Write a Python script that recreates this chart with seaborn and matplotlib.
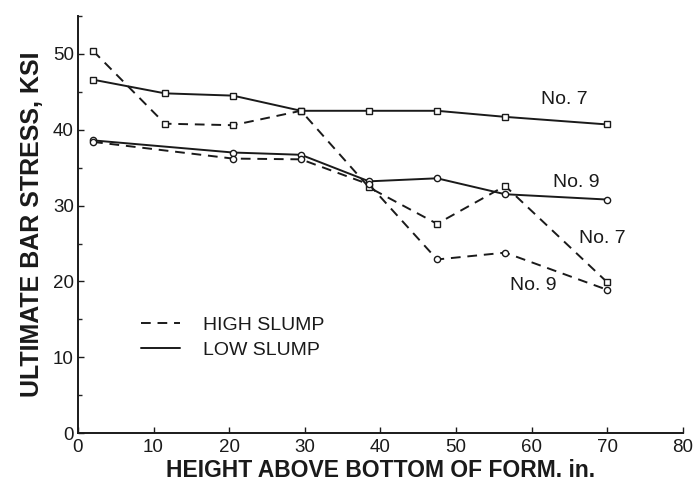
import matplotlib
matplotlib.use("Agg")
import matplotlib.pyplot as plt
import seaborn as sns
import pandas as pd
from matplotlib.ticker import MultipleLocator
from matplotlib.lines import Line2D

# Data
x7 = [2, 11.5, 20.5, 29.5, 38.5, 47.5, 56.5, 70]
x9 = [2, 20.5, 29.5, 38.5, 47.5, 56.5, 70]
low7 = [46.6, 44.8, 44.5, 42.5, 42.5, 42.5, 41.7, 40.7]
high7 = [50.4, 40.8, 40.6, 42.5, 32.4, 27.6, 32.6, 19.9]
low9 = [38.6, 37.0, 36.7, 33.2, 33.6, 31.5, 30.8]
high9 = [38.4, 36.2, 36.1, 32.8, 22.9, 23.8, 18.9]

labels = ["No. 7", "No. 9", "No. 7", "No. 9"]
label_x = [64.3, 65.9, 69.4, 60.2]
label_y = [44.0, 33.0, 25.6, 19.5]

sns.set_theme(style="ticks")
plt.rcParams['font.family'] = ['Liberation Sans', 'DejaVu Sans']

INK = "#1a1a1a"
fig = plt.figure(figsize=(6.96, 4.84), dpi=100)
ax = fig.add_axes([0.112, 0.105, 0.869, 0.862])

series = [
    (x7, low7, "s", "-"),
    (x7, high7, "s", "--"),
    (x9, low9, "o", "-"),
    (x9, high9, "o", "--"),
]
for xs, ys, mk, ls in series:
    df = pd.DataFrame({"x": xs, "y": ys})
    sns.lineplot(data=df, x="x", y="y", ax=ax, color=INK, linewidth=1.4,
                 marker=mk, markersize=4.5, markerfacecolor="white",
                 markeredgecolor=INK, markeredgewidth=1.0, legend=False)
    if ls == "--":
        ax.lines[-1].set_linestyle((0, (5, 3.5)))

for t, lx, ly in zip(labels, label_x, label_y):
    ax.text(lx, ly, t, ha="center", va="center", fontsize=14, color=INK)

handles = [Line2D([], [], color=INK, lw=1.4, linestyle=(0, (5, 3.5))),
           Line2D([], [], color=INK, lw=1.4, linestyle="-")]
leg = ax.legend(handles, ["HIGH SLUMP", "LOW SLUMP"], loc="center left",
                bbox_to_anchor=(0.105, 0.229), frameon=False, fontsize=14,
                handlelength=2.0, handletextpad=1.15, labelspacing=0.38,
                borderpad=0, borderaxespad=0)
for txt in leg.get_texts():
    txt.set_color(INK)

ax.set_xlim(0, 80)
ax.set_ylim(0, 55)
ax.xaxis.set_major_locator(MultipleLocator(10))
ax.set_yticks([0, 10, 20, 30, 40, 50])
ax.yaxis.set_minor_locator(MultipleLocator(5))
ax.tick_params(direction="in", length=4, width=1, labelsize=13.5, colors=INK)
ax.tick_params(axis="y", pad=3)
ax.tick_params(axis="x", pad=4)
ax.tick_params(which="minor", direction="in", length=3, width=1)
for s in ["top", "right"]:
    ax.spines[s].set_visible(False)
for s in ["left", "bottom"]:
    ax.spines[s].set_linewidth(1.4)
    ax.spines[s].set_color(INK)

ax.set_xlabel("HEIGHT ABOVE BOTTOM OF FORM. in.", fontsize=16.5, fontweight="bold",
              labelpad=2, color=INK)
ax.set_ylabel("ULTIMATE BAR STRESS, KSI", fontsize=18, fontweight="bold",
              labelpad=6, color=INK)

fig.savefig("out.png", dpi=100)
